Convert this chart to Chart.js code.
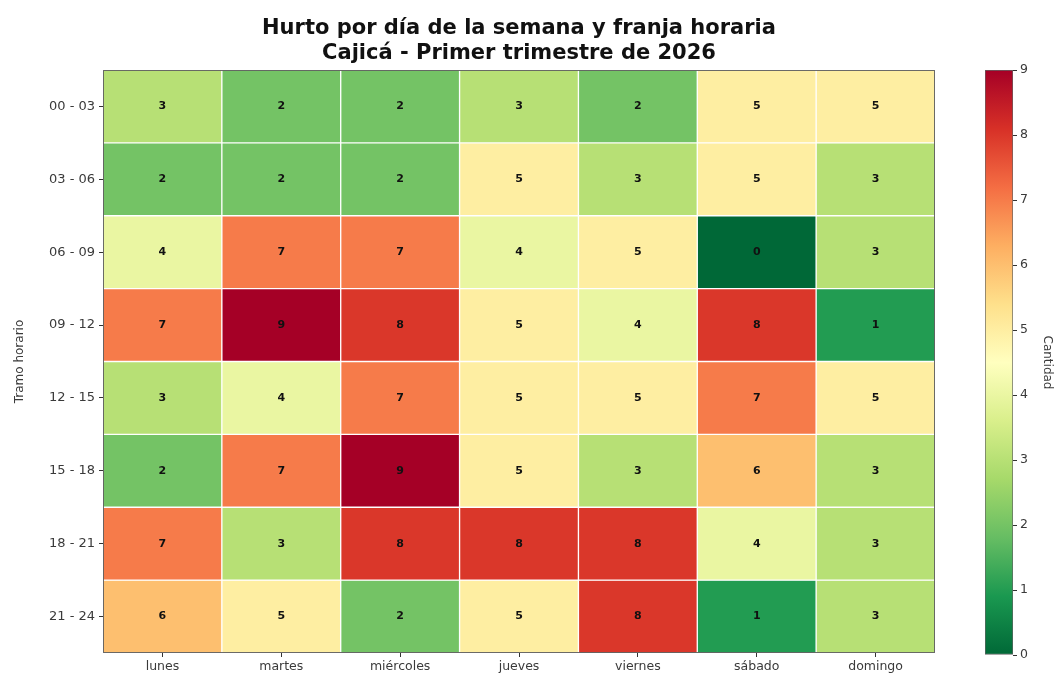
<!DOCTYPE html>
<html>
<head>
<meta charset="utf-8">
<script src="https://cdn.jsdelivr.net/npm/chart.js@4.4.1/dist/chart.umd.min.js"></script>
<style>
    html, body { margin: 0; padding: 0; background: #ffffff; }
    #wrap { position: relative; width: 1056px; height: 677px; }
    #heat { position: absolute; left: 0; top: 0; }
    #bar { position: absolute; left: 960px; top: 0; }
</style>
</head>
<body>
<div id="wrap">
    <canvas id="heat" width="960" height="677"></canvas>
    <canvas id="bar" width="96" height="677"></canvas>
</div>
<script>
// Datos
const dias = ['lunes', 'martes', 'miércoles', 'jueves', 'viernes', 'sábado', 'domingo'];
const franjas = ['00 - 03', '03 - 06', '06 - 09', '09 - 12', '12 - 15', '15 - 18', '18 - 21', '21 - 24'];
const conteos = [
    [3, 2, 2, 3, 2, 5, 5],
    [2, 2, 2, 5, 3, 5, 3],
    [4, 7, 7, 4, 5, 0, 3],
    [7, 9, 8, 5, 4, 8, 1],
    [3, 4, 7, 5, 5, 7, 5],
    [2, 7, 9, 5, 3, 6, 3],
    [7, 3, 8, 8, 8, 4, 3],
    [6, 5, 2, 5, 8, 1, 3]
];
const escalaTicks = [0, 1, 2, 3, 4, 5, 6, 7, 8, 9];
const titulo = ['Hurto por día de la semana y franja horaria', 'Cajicá - Primer trimestre de 2026'];

const vMin = 0;
const vMax = 9;

// RdYlGn invertido (verde -> rojo)
const paleta = ['#006837', '#1a9850', '#66bd63', '#a6d96a', '#d9ef8b', '#ffffbf',
                '#fee08b', '#fdae61', '#f46d43', '#d73027', '#a50026'];

function hexToRgb(h) {
    return [parseInt(h.slice(1, 3), 16), parseInt(h.slice(3, 5), 16), parseInt(h.slice(5, 7), 16)];
}

function colorFor(v) {
    const t = Math.min(1, Math.max(0, (v - vMin) / (vMax - vMin))) * (paleta.length - 1);
    const i = Math.min(paleta.length - 2, Math.floor(t));
    const f = t - i;
    const a = hexToRgb(paleta[i]);
    const b = hexToRgb(paleta[i + 1]);
    const c = a.map((x, k) => Math.round(x + (b[k] - x) * f));
    return `rgb(${c[0]}, ${c[1]}, ${c[2]})`;
}

const FONT = "'DejaVu Sans', sans-serif";
const TEXT = '#3a3a3a';

// cada franja es un dataset de barras flotantes [fila, fila+1]
const datasets = franjas.map((f, r) => ({
    label: f,
    data: dias.map(() => [r, r + 1]),
    backgroundColor: conteos[r].map(colorFor),
    borderColor: '#ffffff',
    borderWidth: 1,
    borderSkipped: false,
    barPercentage: 1,
    categoryPercentage: 1,
    grouped: false
}));

const cellLabels = {
    id: 'cellLabels',
    afterDatasetsDraw(chart) {
        const ctx = chart.ctx;
        ctx.save();
        ctx.font = `bold 11px ${FONT}`;
        ctx.fillStyle = '#111111';
        ctx.textAlign = 'center';
        ctx.textBaseline = 'middle';
        chart.data.datasets.forEach((ds, r) => {
            chart.getDatasetMeta(r).data.forEach((el, c) => {
                const p = el.getProps(['x', 'y', 'base'], true);
                ctx.fillText(String(conteos[r][c]), p.x, (p.y + p.base) / 2);
            });
        });
        ctx.restore();
    }
};

// marco y titulo centrados sobre el area del grafico (como matplotlib)
const frame = {
    id: 'frame',
    afterDraw(chart) {
        const a = chart.chartArea;
        const ctx = chart.ctx;
        ctx.save();
        ctx.strokeStyle = 'rgba(70, 70, 70, 0.8)';
        ctx.lineWidth = 1;
        ctx.strokeRect(a.left + 0.5, a.top + 0.5, a.right - a.left - 1, a.bottom - a.top - 1);

        ctx.fillStyle = '#111111';
        ctx.font = `bold 21px ${FONT}`;
        ctx.textAlign = 'center';
        ctx.textBaseline = 'middle';
        const cx = (a.left + a.right) / 2;
        titulo.forEach((line, i) => ctx.fillText(line, cx, 29 + i * 25));
        ctx.restore();
    }
};

new Chart(document.getElementById('heat'), {
    type: 'bar',
    data: { labels: dias, datasets: datasets },
    options: {
        responsive: false,
        animation: false,
        layout: { padding: { left: 0, right: 25, top: 70, bottom: 0 } },
        plugins: {
            legend: { display: false },
            tooltip: { enabled: false },
            title: { display: false }
        },
        scales: {
            x: {
                type: 'category',
                grid: { display: true, drawOnChartArea: false, offset: false, tickLength: 4, color: '#333333' },
                border: { display: false },
                ticks: { color: TEXT, font: { family: FONT, size: 12.5 }, padding: 2, maxRotation: 0 },
                afterFit(scale) { scale.height = 24; }
            },
            y: {
                type: 'linear',
                min: 0,
                max: franjas.length,
                reverse: true,
                grid: { display: true, drawOnChartArea: false, tickLength: 4, color: '#333333' },
                border: { display: false },
                afterBuildTicks(axis) {
                    axis.ticks = franjas.map((f, i) => ({ value: i + 0.5 }));
                },
                ticks: {
                    color: TEXT,
                    font: { family: FONT, size: 13 },
                    padding: 4,
                    callback: (value, index) => franjas[index]
                },
                title: {
                    display: true,
                    text: 'Tramo horario',
                    color: TEXT,
                    font: { family: FONT, size: 12 },
                    padding: { top: 13, bottom: 0 }
                },
                afterFit(scale) { scale.width = 103; }
            }
        }
    },
    plugins: [cellLabels, frame]
});

// barra de colores
new Chart(document.getElementById('bar'), {
    type: 'bar',
    data: {
        labels: ['c'],
        datasets: [{
            data: [[vMin, vMax]],
            backgroundColor(context) {
                const area = context.chart.chartArea;
                if (!area) return paleta[5];
                const g = context.chart.ctx.createLinearGradient(0, area.bottom, 0, area.top);
                paleta.forEach((c, i) => g.addColorStop(i / (paleta.length - 1), c));
                return g;
            },
            borderColor: 'rgba(60, 60, 60, 0.8)',
            borderWidth: 1,
            borderSkipped: false,
            barPercentage: 1,
            categoryPercentage: 1
        }]
    },
    options: {
        responsive: false,
        animation: false,
        layout: { padding: { left: 25, right: 0, top: 70, bottom: 22 } },
        plugins: { legend: { display: false }, tooltip: { enabled: false } },
        scales: {
            x: { display: false },
            y: {
                position: 'right',
                min: vMin,
                max: vMax,
                grid: { display: true, drawOnChartArea: false, tickLength: 4, color: '#333333' },
                border: { display: false },
                afterBuildTicks(axis) {
                    axis.ticks = escalaTicks.map(v => ({ value: v }));
                },
                ticks: { color: TEXT, font: { family: FONT, size: 12.5 }, padding: 3 },
                title: {
                    display: true,
                    text: 'Cantidad',
                    color: TEXT,
                    font: { family: FONT, size: 12 },
                    padding: { top: 2, bottom: 0 }
                },
                afterFit(scale) { scale.width = 43; }
            }
        }
    }
});
</script>
</body>
</html>
